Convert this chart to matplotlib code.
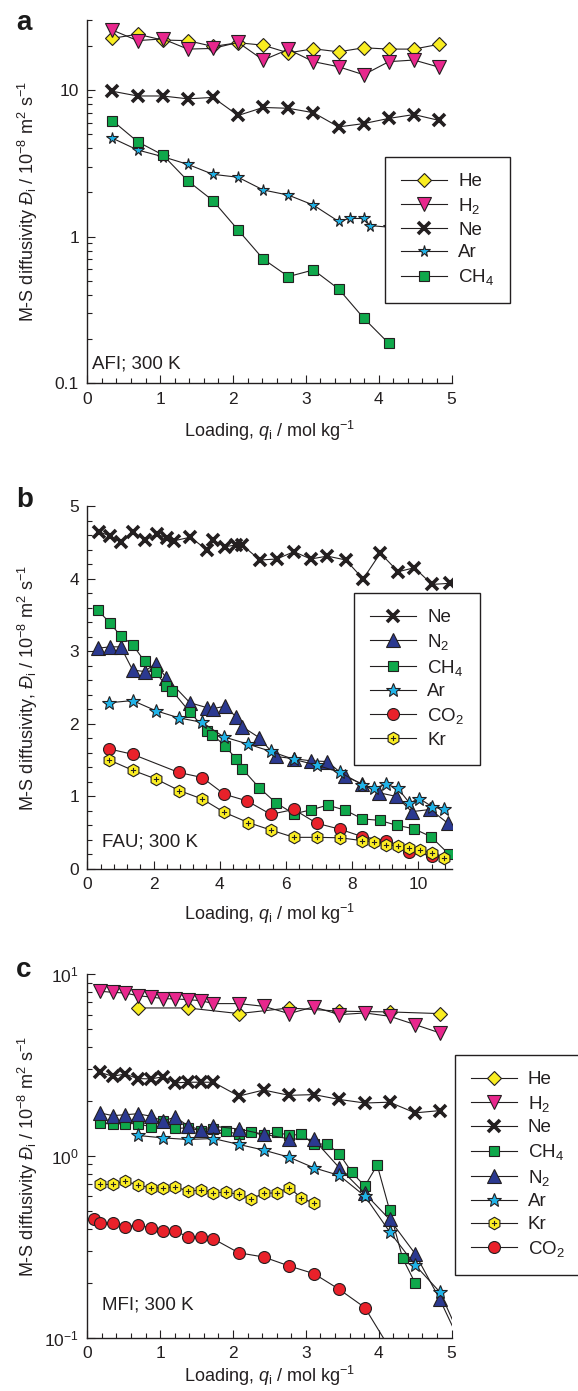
import matplotlib
matplotlib.use("Agg")
import matplotlib.pyplot as plt
from matplotlib.path import Path
from matplotlib.ticker import MultipleLocator, LogLocator, FixedLocator, FixedFormatter, NullFormatter, LogFormatterSciNotation
import numpy as np

plt.rcParams['font.family'] = ['Liberation Sans', 'DejaVu Sans']
plt.rcParams['mathtext.fontset'] = 'custom'
plt.rcParams['mathtext.rm'] = 'Liberation Sans'
plt.rcParams['mathtext.it'] = 'Liberation Sans:italic'
plt.rcParams['mathtext.bf'] = 'Liberation Sans:bold'
plt.rcParams['mathtext.default'] = 'regular'

# ---------------- Panel a: AFI, 300 K ----------------
a_He_x = [0.345, 0.69, 1.035, 1.38, 1.725, 2.07, 2.415, 2.76, 3.105, 3.45, 3.795, 4.14, 4.485, 4.83]
a_He_y = [22.5, 24.0, 21.9, 21.7, 19.8, 21.0, 20.2, 17.9, 19.1, 18.2, 19.4, 19.0, 19.0, 20.5]
a_H2_x = [0.345, 0.69, 1.035, 1.38, 1.725, 2.07, 2.415, 2.76, 3.105, 3.45, 3.795, 4.14, 4.485, 4.83]
a_H2_y = [25.6, 21.7, 22.3, 19.0, 19.2, 21.1, 16.0, 18.9, 15.6, 14.4, 12.7, 15.6, 16.0, 14.3]
a_Ne_x = [0.345, 0.69, 1.035, 1.38, 1.725, 2.07, 2.415, 2.76, 3.105, 3.45, 3.795, 4.14, 4.485, 4.83]
a_Ne_y = [9.8, 9.1, 9.1, 8.7, 8.9, 6.7, 7.6, 7.5, 7.0, 5.6, 5.9, 6.4, 6.8, 6.2]
a_Ar_x = [0.345, 0.69, 1.035, 1.38, 1.725, 2.07, 2.415, 2.76, 3.105, 3.45, 3.60, 3.80, 3.88, 4.14]
a_Ar_y = [4.69, 3.90, 3.51, 3.11, 2.66, 2.54, 2.08, 1.92, 1.64, 1.27, 1.33, 1.33, 1.19, 1.16]
a_CH4_x = [0.345, 0.69, 1.035, 1.38, 1.725, 2.07, 2.415, 2.76, 3.105, 3.45, 3.795, 4.14]
a_CH4_y = [6.18, 4.44, 3.61, 2.40, 1.76, 1.11, 0.704, 0.534, 0.593, 0.440, 0.278, 0.187]

# ---------------- Panel b: FAU, 300 K ----------------
b_Ne_x = [0.355, 0.688, 1.02, 1.375, 1.75, 2.10, 2.42, 2.61, 3.11, 3.62, 3.80, 4.17, 4.48, 4.68, 5.21, 5.72,
          6.24, 6.75, 7.25, 7.81, 8.33, 8.85, 9.39, 9.88, 10.41, 10.94]
b_Ne_y = [4.646, 4.587, 4.50, 4.646, 4.53, 4.614, 4.555, 4.52, 4.57, 4.394, 4.53, 4.44, 4.463, 4.463, 4.256,
          4.27, 4.37, 4.27, 4.31, 4.256, 3.995, 4.35, 4.095, 4.15, 3.92, 3.935]
b_N2_x = [0.31, 0.68, 1.01, 1.37, 1.73, 2.06, 2.39, 3.10, 3.63, 3.80, 4.15, 4.49, 4.68, 5.19, 5.69, 6.24,
          6.75, 7.25, 7.77, 8.31, 8.81, 9.33, 9.80, 10.36, 10.89]
b_N2_y = [3.04, 3.06, 3.06, 2.74, 2.72, 2.83, 2.63, 2.29, 2.22, 2.21, 2.24, 2.10, 1.96, 1.81, 1.55, 1.52,
          1.49, 1.48, 1.28, 1.17, 1.05, 1.0, 0.79, 0.82, 0.63]
b_CH4_x = [0.31, 0.68, 1.01, 1.37, 1.73, 2.06, 2.39, 2.57, 3.10, 3.61, 3.78, 4.15, 4.49, 4.68, 5.19, 5.70,
           6.24, 6.76, 7.26, 7.79, 8.31, 8.83, 9.36, 9.86, 10.38, 10.91]
b_CH4_y = [3.57, 3.39, 3.21, 3.09, 2.86, 2.71, 2.52, 2.45, 2.16, 1.90, 1.85, 1.70, 1.52, 1.38, 1.12, 0.91,
           0.76, 0.815, 0.88, 0.81, 0.69, 0.67, 0.60, 0.555, 0.445, 0.21]
b_Ar_x = [0.67, 1.37, 2.07, 2.78, 3.47, 4.12, 4.86, 5.54, 6.24, 6.93, 7.64, 8.31, 8.67, 9.02, 9.38, 9.73,
          10.03, 10.41, 10.77]
b_Ar_y = [2.29, 2.32, 2.18, 2.08, 2.02, 1.82, 1.72, 1.62, 1.51, 1.43, 1.33, 1.16, 1.11, 1.17, 1.11, 0.91,
          0.97, 0.86, 0.82]
b_CO2_x = [0.67, 1.37, 2.76, 3.47, 4.14, 4.83, 5.54, 6.24, 6.93, 7.64, 8.31, 9.02, 9.73, 10.41]
b_CO2_y = [1.653, 1.58, 1.33, 1.26, 1.03, 0.937, 0.753, 0.82, 0.63, 0.547, 0.445, 0.39, 0.24, 0.18]
b_Kr_x = [0.67, 1.37, 2.07, 2.78, 3.47, 4.14, 4.86, 5.54, 6.24, 6.93, 7.64, 8.31, 8.67, 9.02, 9.38, 9.73,
          10.06, 10.41, 10.77]
b_Kr_y = [1.50, 1.36, 1.24, 1.08, 0.964, 0.78, 0.64, 0.537, 0.436, 0.436, 0.43, 0.39, 0.376, 0.33, 0.32,
          0.29, 0.26, 0.215, 0.147]

# ---------------- Panel c: MFI, 300 K ----------------
c_He_x = [0.69, 1.38, 2.08, 2.77, 3.46, 4.15, 4.84]
c_He_y = [6.53, 6.53, 6.08, 6.53, 6.27, 6.21, 6.08]
c_H2_x = [0.17, 0.35, 0.52, 0.69, 0.87, 1.04, 1.21, 1.38, 1.56, 1.73, 2.08, 2.42, 2.77, 3.11, 3.46, 3.81,
          4.15, 4.50, 4.84]
c_H2_y = [8.07, 7.96, 7.89, 7.63, 7.50, 7.35, 7.32, 7.26, 7.16, 6.90, 6.90, 6.67, 6.08, 6.62, 6.00, 6.13,
          5.88, 5.29, 4.76]
c_Ne_x = [0.17, 0.35, 0.52, 0.69, 0.87, 1.04, 1.21, 1.38, 1.56, 1.73, 2.08, 2.42, 2.77, 3.11, 3.46, 3.81,
          4.15, 4.50, 4.84]
c_Ne_y = [2.89, 2.75, 2.83, 2.67, 2.66, 2.73, 2.53, 2.55, 2.55, 2.55, 2.14, 2.31, 2.16, 2.18, 2.05, 1.96,
          1.98, 1.73, 1.78]
c_CH4_x = [0.17, 0.35, 0.52, 0.69, 0.87, 1.04, 1.21, 1.38, 1.56, 1.73, 1.90, 2.08, 2.25, 2.42, 2.60, 2.77,
           2.94, 3.11, 3.29, 3.46, 3.63, 3.81, 3.98, 4.15, 4.33, 4.50]
c_CH4_y = [1.52, 1.50, 1.51, 1.51, 1.45, 1.56, 1.42, 1.43, 1.38, 1.41, 1.37, 1.32, 1.36, 1.30, 1.355, 1.30,
           1.32, 1.16, 1.17, 1.03, 0.817, 0.684, 0.893, 0.505, 0.274, 0.201]
c_N2_x = [0.17, 0.35, 0.52, 0.69, 0.87, 1.04, 1.21, 1.38, 1.56, 1.73, 2.08, 2.42, 2.77, 3.11, 3.46, 3.81,
          4.15, 4.50, 4.84, 5.19]
c_N2_y = [1.73, 1.67, 1.69, 1.71, 1.66, 1.56, 1.64, 1.47, 1.39, 1.46, 1.41, 1.32, 1.245, 1.235, 0.863,
          0.624, 0.449, 0.291, 0.163, 0.082]
c_Ar_x = [0.69, 1.04, 1.38, 1.73, 2.08, 2.42, 2.77, 3.11, 3.46, 3.81, 4.15, 4.50, 4.84, 5.19]
c_Ar_y = [1.30, 1.26, 1.235, 1.25, 1.16, 1.08, 0.987, 0.863, 0.783, 0.603, 0.384, 0.252, 0.179, 0.088]
c_Kr_x = [0.17, 0.35, 0.52, 0.69, 0.87, 1.04, 1.21, 1.38, 1.56, 1.73, 1.90, 2.08, 2.25, 2.42, 2.60, 2.77,
          2.94, 3.11]
c_Kr_y = [0.699, 0.699, 0.729, 0.693, 0.670, 0.670, 0.678, 0.642, 0.650, 0.629, 0.634, 0.616, 0.583, 0.624,
          0.629, 0.670, 0.59, 0.55]
c_CO2_x = [0.09, 0.17, 0.35, 0.52, 0.69, 0.87, 1.04, 1.21, 1.38, 1.56, 1.73, 2.08, 2.42, 2.77, 3.11, 3.46,
           3.81, 4.15]
c_CO2_y = [0.453, 0.430, 0.427, 0.409, 0.418, 0.404, 0.387, 0.387, 0.360, 0.360, 0.351, 0.294, 0.279, 0.249,
           0.226, 0.185, 0.147, 0.088]

# ---------------- styles ----------------
INK = '#231f20'
hexv = [(np.cos(np.radians(a)), np.sin(np.radians(a))) for a in (90, 150, 210, 270, 330, 30)]
kr_verts = hexv + [(0, 0), (-0.42, 0), (0.42, 0), (0, -0.42), (0, 0.42)]
kr_codes = [Path.MOVETO] + [Path.LINETO] * 5 + [Path.CLOSEPOLY, Path.MOVETO, Path.LINETO, Path.MOVETO, Path.LINETO]
kr_marker = Path(kr_verts, kr_codes)

STY = {
    'He':  dict(marker='D', mfc='#f9ed21', ms=7.2, label='He'),
    'H2':  dict(marker='v', mfc='#e8278d', ms=9.5, label='H$_2$'),
    'Ne':  dict(marker='x', mfc=INK, ms=8.5, mew=2.6, label='Ne'),
    'Ar':  dict(marker='*', mfc='#20b3e8', ms=10.5, label='Ar'),
    'CH4': dict(marker='s', mfc='#0fa84b', ms=7.6, label='CH$_4$'),
    'N2':  dict(marker='^', mfc='#2b3990', ms=9.5, label='N$_2$'),
    'CO2': dict(marker='o', mfc='#e9212a', ms=8.6, label='CO$_2$'),
    'Kr':  dict(marker=kr_marker, mfc='#fbee23', ms=9.0, label='Kr'),
}

W, H = 578.0, 1391.0
fig = plt.figure(figsize=(W / 100, H / 100), dpi=100)


def rect(l, r, t, b):
    return [l / W, 1 - b / H, (r - l) / W, (b - t) / H]


def draw(ax, key, xs, ys, ms=None):
    s = dict(STY[key])
    label = s.pop('label')
    mew = s.pop('mew', 0.8)
    if ms is not None:
        s['ms'] = ms
    ln, = ax.plot(xs, ys, color=INK, lw=0.8, mec=INK, mew=mew, label=label, **s)
    return ln


def style_axes(ax):
    for sp in ('top', 'right'):
        ax.spines[sp].set_visible(False)
    for sp in ('left', 'bottom'):
        ax.spines[sp].set_linewidth(1.0)
        ax.spines[sp].set_color(INK)
    ax.tick_params(which='both', direction='in', top=False, right=False, labelsize=12.5,
                   width=0.8, color=INK, labelcolor=INK, pad=6)
    ax.tick_params(which='major', length=6)
    ax.tick_params(which='minor', length=3.5)


def legend(ax, handles, x0, y0):
    leg = ax.legend(handles, [h.get_label() for h in handles], loc='upper left',
                    bbox_to_anchor=(x0 / W, 1 - y0 / H), bbox_transform=fig.transFigure,
                    borderaxespad=0, frameon=True, fancybox=False, edgecolor=INK, framealpha=1,
                    fontsize=13.5, handlelength=2.45, handletextpad=0.6, borderpad=0.85,
                    labelspacing=0.3)
    leg.get_frame().set_linewidth(1.0)
    for t in leg.get_texts():
        t.set_color(INK)
    return leg


xlab = r'Loading, $\mathit{q}_\mathrm{i}$ / mol kg$^{-1}$'
ylab = r'M-S diffusivity $\mathit{Đ}_\mathrm{i}$ / 10$^{-8}$ m$^{2}$ s$^{-1}$'
ylab_b = r'M-S diffusivity, $\mathit{Đ}_\mathrm{i}$ / 10$^{-8}$ m$^{2}$ s$^{-1}$'
YLX = -0.13

# ---------- a ----------
axA = fig.add_axes(rect(87.3, 451.5, 20, 383.3))
style_axes(axA)
axA.set_yscale('log')
hA = [draw(axA, 'He', a_He_x, a_He_y), draw(axA, 'H2', a_H2_x, a_H2_y),
      draw(axA, 'Ne', a_Ne_x, a_Ne_y), draw(axA, 'Ar', a_Ar_x, a_Ar_y, ms=8.5),
      draw(axA, 'CH4', a_CH4_x, a_CH4_y)]
axA.set_xlim(0, 5)
axA.set_ylim(0.1, 30)
axA.xaxis.set_major_locator(MultipleLocator(1))
axA.xaxis.set_minor_locator(MultipleLocator(0.2))
axA.yaxis.set_major_locator(FixedLocator([0.1, 1, 10]))
axA.yaxis.set_major_formatter(FixedFormatter(['0.1', '1', '10']))
axA.yaxis.set_minor_locator(LogLocator(base=10, subs=np.arange(2, 10)))
axA.yaxis.set_minor_formatter(NullFormatter())
axA.set_xlabel(xlab, fontsize=13, color=INK, labelpad=9)
axA.set_ylabel(ylab, fontsize=13, color=INK)
axA.yaxis.set_label_coords(YLX, 0.5)
legend(axA, hA, 385, 157.3)
fig.text(91.5 / W, 1 - 368.3 / H, 'AFI; 300 K', fontsize=13.5, color=INK, va='baseline', ha='left')
fig.text(16 / W, 1 - 30 / H, 'a', fontsize=20, fontweight='bold', color='#1a1a1a', va='baseline', ha='left')

# ---------- b ----------
axB = fig.add_axes(rect(87.3, 451.5, 506, 869))
style_axes(axB)
hB = [draw(axB, 'Ne', b_Ne_x, b_Ne_y), draw(axB, 'N2', b_N2_x, b_N2_y),
      draw(axB, 'CH4', b_CH4_x, b_CH4_y), draw(axB, 'Ar', b_Ar_x, b_Ar_y),
      draw(axB, 'CO2', b_CO2_x, b_CO2_y), draw(axB, 'Kr', b_Kr_x, b_Kr_y)]
axB.set_xlim(0, 11)
axB.set_ylim(0, 5)
axB.xaxis.set_major_locator(MultipleLocator(2))
axB.xaxis.set_minor_locator(MultipleLocator(0.4))
axB.yaxis.set_major_locator(MultipleLocator(1))
axB.yaxis.set_minor_locator(MultipleLocator(0.2))
axB.set_xlabel(xlab, fontsize=13, color=INK, labelpad=7)
axB.set_ylabel(ylab_b, fontsize=13, color=INK)
axB.yaxis.set_label_coords(YLX, 0.5)
legend(axB, hB, 354, 593.3)
fig.text(101.5 / W, 1 - 846.7 / H, 'FAU; 300 K', fontsize=13.5, color=INK, va='baseline', ha='left')
fig.text(16 / W, 1 - 507 / H, 'b', fontsize=20, fontweight='bold', color='#1a1a1a', va='baseline', ha='left')

# ---------- c ----------
axC = fig.add_axes(rect(87.3, 451.5, 974.3, 1338))
style_axes(axC)
axC.set_yscale('log')
hC = [draw(axC, 'He', c_He_x, c_He_y), draw(axC, 'H2', c_H2_x, c_H2_y),
      draw(axC, 'Ne', c_Ne_x, c_Ne_y), draw(axC, 'CH4', c_CH4_x, c_CH4_y),
      draw(axC, 'N2', c_N2_x, c_N2_y), draw(axC, 'Ar', c_Ar_x, c_Ar_y),
      draw(axC, 'Kr', c_Kr_x, c_Kr_y), draw(axC, 'CO2', c_CO2_x, c_CO2_y)]
axC.set_xlim(0, 5)
axC.set_ylim(0.1, 10)
axC.xaxis.set_major_locator(MultipleLocator(1))
axC.xaxis.set_minor_locator(MultipleLocator(0.2))
axC.yaxis.set_major_locator(FixedLocator([0.1, 1, 10]))
axC.yaxis.set_major_formatter(LogFormatterSciNotation())
axC.yaxis.set_minor_locator(LogLocator(base=10, subs=np.arange(2, 10)))
axC.yaxis.set_minor_formatter(NullFormatter())
axC.set_xlabel(xlab, fontsize=13, color=INK, labelpad=2)
axC.set_ylabel(ylab, fontsize=13, color=INK)
axC.yaxis.set_label_coords(YLX, 0.5)
legend(axC, hC, 454.7, 1055)
fig.text(101.5 / W, 1 - 1310 / H, 'MFI; 300 K', fontsize=13.5, color=INK, va='baseline', ha='left')
fig.text(16 / W, 1 - 977 / H, 'c', fontsize=20, fontweight='bold', color='#1a1a1a', va='baseline', ha='left')

fig.savefig('out.png', dpi=100)
